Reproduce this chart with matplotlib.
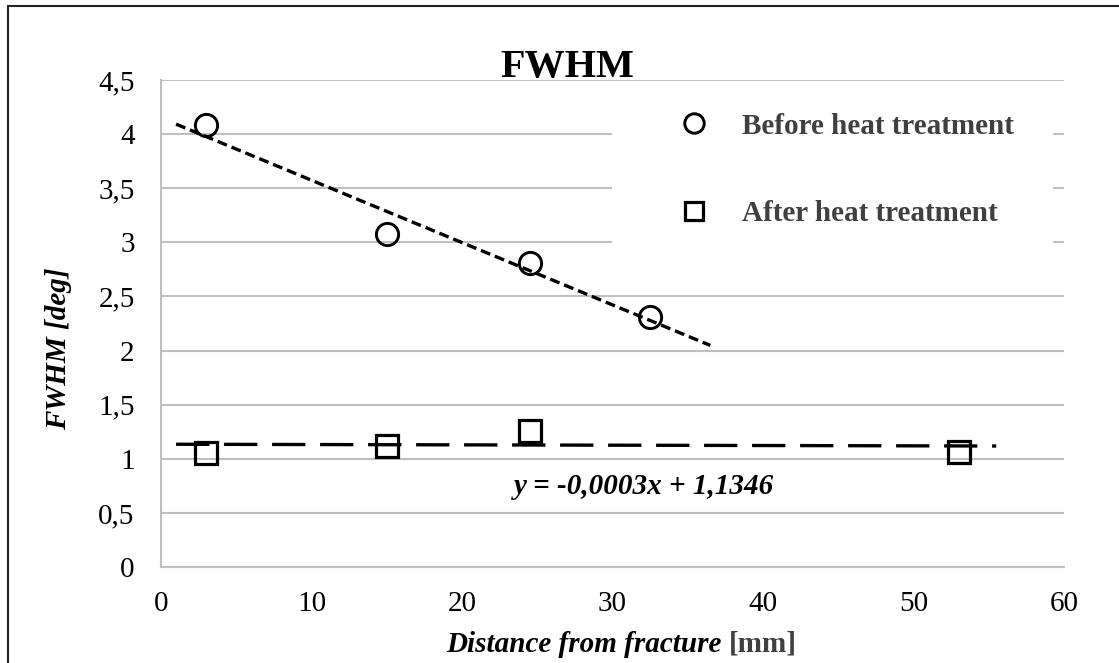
import numpy as np
import matplotlib
matplotlib.use("Agg")
import matplotlib.pyplot as plt
from matplotlib.lines import Line2D
from matplotlib.patches import Rectangle
from matplotlib.ticker import MultipleLocator, FuncFormatter

plt.rcParams['font.family'] = ['Liberation Serif', 'DejaVu Serif']

# data
dist_before = [3, 15, 24.5, 32.5]
fwhm_before = [4.08, 3.08, 2.81, 2.31]
dist_after = [3, 15, 24.5, 53]
fwhm_after = [1.05, 1.12, 1.26, 1.06]

# trendlines (excel style, extended a bit past the data)
before_trend_span = [1, 36.5]
after_trend_span = [1, 55.5]
after_slope = -0.0003
after_intercept = 1.1346
equation_label = "y = -0,0003x + 1,1346"

series_labels = ["Before heat treatment", "After heat treatment"]

grid_col = '#bfbfbf'
fs = 21

fig = plt.figure(figsize=(11.19, 6.63), dpi=100)
ax = fig.add_axes([0.1439, 0.1448, 0.8069, 0.7345])

# markers
ax.plot(dist_before, fwhm_before, 'o', ms=16, mfc='none', mec='black', mew=2.1, zorder=4)
ax.plot(dist_after, fwhm_after, 's', ms=15.5, mfc='none', mec='black', mew=2.3, zorder=4)

# before heat treatment: least squares fit
k, b = np.polyfit(dist_before, fwhm_before, 1)
xb = np.array(before_trend_span)
ax.plot(xb, k * xb + b, color='black', lw=2.4, dashes=(3, 1.5), zorder=3)

# after heat treatment: equation shown on the chart
xa = np.array(after_trend_span)
ax.plot(xa, after_slope * xa + after_intercept, color='black', lw=2.4,
        dashes=(10, 4.4), zorder=3)

ax.text(32.1, 0.74, equation_label, ha='center', va='center', fontsize=fs,
        fontweight='bold', fontstyle='italic')

ax.set_xlim(0, 60)
ax.set_ylim(0, 4.5)
ax.xaxis.set_major_locator(MultipleLocator(10))
ax.yaxis.set_major_locator(MultipleLocator(0.5))
ax.yaxis.set_major_formatter(FuncFormatter(lambda v, p: f"{v:g}".replace('.', ',')))
ax.grid(axis='y', color=grid_col, lw=1.5)
ax.set_axisbelow(True)
for s in ['top', 'right']:
    ax.spines[s].set_visible(False)
for s in ['left', 'bottom']:
    ax.spines[s].set_color(grid_col)
    ax.spines[s].set_linewidth(1.5)
ax.tick_params(length=0, labelsize=fs)
ax.tick_params(axis='y', pad=19)
ax.tick_params(axis='x', pad=17)

ax.set_ylabel("FWHM [deg]", fontsize=fs, fontweight='bold', fontstyle='italic')
ax.yaxis.set_label_coords(-0.0986, 0.448)

t1 = ax.text(0.316, -0.1745, "Distance from fracture ", transform=ax.transAxes,
             fontsize=fs, fontweight='bold', fontstyle='italic', ha='left', va='baseline')
ax.annotate("[mm]", xy=(1, 0), xycoords=t1, ha='left', va='bottom',
            fontsize=fs, fontweight='bold', color='#404040')

# legend background covers the gridlines
ax.add_patch(Rectangle((0.4995, 0.589), 0.4883, 0.38, transform=ax.transAxes,
                       facecolor='white', edgecolor='none', zorder=1.5))
handles = [Line2D([], [], ls='none', marker='o', ms=14, mfc='none', mec='black', mew=2.1),
           Line2D([], [], ls='none', marker='s', ms=13.5, mfc='none', mec='black', mew=2.3)]
leg = ax.legend(handles, series_labels, loc='upper left', bbox_to_anchor=(0.574, 0.933),
                frameon=False, borderpad=0, borderaxespad=0, handlelength=1.0,
                handletextpad=1.15, labelspacing=2.08,
                prop={'size': fs, 'weight': 'bold', 'family': 'Liberation Serif'})
for t in leg.get_texts():
    t.set_color('#404040')

fig.text(0.5067, 0.8839, "FWHM", ha='center', va='baseline', fontsize=29, fontweight='bold')

# chart border
fig.patches.append(Rectangle((8 / 1119, -0.1), 2, (663 - 6) / 663 + 0.1,
                             transform=fig.transFigure, fill=False, ec='#222222', lw=1.5))

fig.savefig("out.png", dpi=100)
